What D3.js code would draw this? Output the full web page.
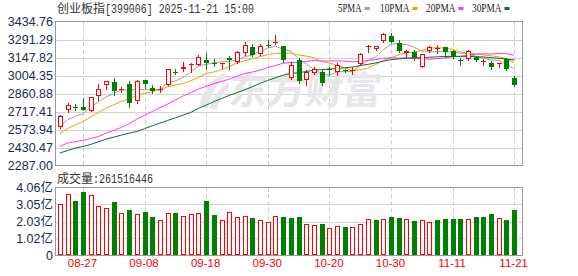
<!DOCTYPE html>
<html>
<head>
<meta charset="utf-8">
<script src="https://cdn.jsdelivr.net/npm/d3@7"></script>
<style>
  html, body { margin: 0; padding: 0; background: #fff; }
  svg { display: block; }
</style>
</head>
<body>
<svg id="chart" width="578" height="276"></svg>
<script>
var width = 578, height = 276

// trading days, 08-22 .. 11-21
var dates = ['08-22','08-25','08-26','08-27','08-28','08-29','09-01','09-02','09-03','09-04',
  '09-05','09-08','09-09','09-10','09-11','09-12','09-15','09-16','09-17','09-18',
  '09-19','09-22','09-23','09-24','09-25','09-26','09-29','09-30','10-09','10-10',
  '10-13','10-14','10-15','10-16','10-17','10-20','10-21','10-22','10-23','10-24',
  '10-27','10-28','10-29','10-30','10-31','11-03','11-04','11-05','11-06','11-07',
  '11-10','11-11','11-12','11-13','11-14','11-17','11-18','11-19','11-20','11-21']

var open = [2593,2726,2755,2753,2721,2837,2928,2954,2892,2938,
  2800,2970,2906,2894,2932,3035,3055,3087,3092,3130,
  3106,3101,3146,3108,3182,3231,3177,3251,3263,3241,
  2981,3130,2970,3024,3034,3053,3029,3052,3045,3098,
  3239,3215,3279,3320,3263,3182,3193,3076,3199,3215,
  3231,3203,3128,3135,3155,3110,3103,3100,3135,2986]
var high = [2687,2789,2778,2827,2836,2938,2962,2986,2916,2960,
  2970,2972,2928,2922,3059,3060,3114,3100,3166,3182,
  3135,3106,3161,3198,3272,3257,3257,3284,3331,3243,
  3108,3140,3050,3071,3045,3071,3103,3060,3071,3187,
  3245,3243,3344,3342,3284,3209,3209,3179,3241,3247,
  3233,3209,3146,3209,3161,3135,3119,3104,3140,3002]
var low = [2587,2710,2726,2729,2719,2811,2895,2847,2874,2753,
  2784,2906,2863,2874,2930,3013,3044,3033,3087,3060,
  3082,3065,3055,3103,3171,3162,3166,3231,3257,3108,
  2975,2944,2932,3013,2928,3008,3008,3036,3013,3092,
  3193,3209,3273,3268,3193,3151,3124,3074,3193,3182,
  3155,3140,3092,3130,3119,3092,3060,3071,3049,2922]
var close = [2683,2768,2751,2731,2832,2895,2960,2879,2897,2784,
  2960,2938,2879,2900,3055,3031,3071,3098,3155,3103,
  3100,3104,3124,3193,3247,3171,3243,3248,3272,3124,
  3092,2960,3034,3055,2944,3049,3087,3044,3052,3177,
  3243,3240,3336,3273,3199,3203,3146,3177,3231,3221,
  3193,3150,3124,3203,3124,3116,3076,3103,3055,2928]

// volume, 亿
var volume = [3.09,3.69,3.23,3.82,3.59,2.98,2.86,3.17,2.56,2.70,
  2.50,2.58,2.28,2.09,2.56,2.56,2.38,2.50,2.56,3.23,
  2.40,2.10,2.62,2.32,2.38,2.22,2.09,2.03,2.38,2.28,
  2.22,2.28,1.91,1.85,1.87,1.63,1.79,1.69,1.73,1.91,
  2.16,2.10,2.16,2.28,2.22,2.20,2.05,2.09,2.03,2.10,
  2.16,2.16,2.16,2.20,2.28,2.28,2.46,2.26,2.10,2.70]

var ma5 = [2597,2651,2678,2699,2753,2795,2834,2859,2892,2883,
  2896,2891,2891,2892,2947,2961,2988,3031,3082,3092,
  3107,3113,3118,3126,3154,3167,3197,3222,3238,3213,
  3197,3139,3096,3053,3016,3007,3033,3036,3036,3083,
  3122,3152,3209,3253,3257,3251,3231,3199,3191,3195,
  3193,3194,3183,3178,3158,3143,3128,3125,3095,3055]
var ma10 = [2540,2582,2610,2637,2673,2710,2744,2771,2799,2818,
  2846,2863,2875,2892,2915,2928,2940,2962,2988,3020,
  3033,3050,3075,3104,3123,3138,3155,3170,3181,3183,
  3182,3168,3159,3146,3115,3103,3086,3066,3044,3049,
  3064,3092,3123,3145,3169,3185,3191,3204,3222,3227,
  3222,3213,3191,3184,3177,3168,3161,3153,3137,3107]
var ma20 = [2439,2466,2477,2487,2502,2518,2545,2566,2592,2619,
  2657,2687,2717,2747,2777,2809,2841,2868,2896,2918,
  2940,2957,2975,2999,3020,3032,3047,3066,3084,3102,
  3108,3109,3117,3125,3119,3120,3121,3119,3113,3117,
  3124,3131,3142,3146,3143,3145,3140,3136,3134,3139,
  3144,3153,3157,3165,3174,3177,3176,3179,3179,3167]
var ma30 = [2386,2407,2426,2439,2455,2476,2497,2513,2529,2545,
  2558,2581,2603,2625,2646,2667,2689,2710,2742,2768,
  2796,2821,2846,2867,2890,2915,2942,2965,2986,3007,
  3020,3027,3036,3047,3051,3056,3060,3066,3071,3084,
  3093,3104,3119,3131,3136,3142,3145,3147,3150,3153,
  3156,3157,3157,3158,3153,3152,3146,3141,3135,3128]

var priceTicks = [2287.00,2430.47,2573.94,2717.41,2860.88,3004.35,3147.82,3291.29,3434.76]
var volTicks = [0,1.02,2.03,3.05,4.06]
var dateTicks = ['08-27','09-08','09-18','09-30','10-20','10-30','11-11','11-21']

var maNames = ['5PMA','10PMA','20PMA','30PMA']
var maColors = ['#a0a0a0','#f0a000','#ff33ff','#0b6b2e']

var RED = '#ff0000', GREEN = '#008000'
var left = 56, right = 522

var svg = d3.select('#chart')

var x = d3.scaleBand().domain(dates).range([left, 518])
var y = d3.scaleLinear().domain([2287, 3434.76]).range([165.5, 21.5])
var yv = d3.scaleLinear().domain([0, 4.06]).range([255.5, 187.5])

function cx(d) { return Math.round(x(d) + x.bandwidth() / 2) }

var bars = dates.map(function(d, i) {
  return {date: d, o: open[i], h: high[i], l: low[i], c: close[i], v: volume[i],
    prev: i > 0 ? close[i - 1] : open[i]}
})

// ---- grid ----
var grid = svg.append('g')
grid.selectAll('line.h').data(priceTicks.slice(1, -1))
  .enter().append('line')
  .attr('x1', left).attr('x2', right)
  .attr('y1', function(d) { return Math.round(y(d)) + 0.5 })
  .attr('y2', function(d) { return Math.round(y(d)) + 0.5 })
  .attr('stroke', '#d4d4d4')
grid.selectAll('line.vh').data(volTicks.slice(1, -1))
  .enter().append('line')
  .attr('x1', left).attr('x2', right)
  .attr('y1', function(d) { return Math.round(yv(d)) + 0.5 })
  .attr('y2', function(d) { return Math.round(yv(d)) + 0.5 })
  .attr('stroke', '#d4d4d4')

dateTicks.forEach(function(d) {
  [[21.5, 165.5], [187.5, 255.5]].forEach(function(r) {
    grid.append('line')
      .attr('x1', cx(d) + 0.5).attr('x2', cx(d) + 0.5)
      .attr('y1', r[0]).attr('y2', r[1])
      .attr('stroke', '#cccccc')
      .attr('stroke-dasharray', '4,3')
  })
})

// ---- watermark ----
var wm = svg.append('g').attr('fill', '#e6e6ea')
wm.append('path')
  .attr('d', 'M199,106 C203,92 210,80 224,73 L226,77 C216,84 211,94 208,108 Z M209,108 C214,96 219,88 229,82 L229,87 C222,93 219,100 217,110 Z')
wm.append('text')
  .attr('x', 228).attr('y', 104)
  .attr('font-family', 'Noto Sans CJK SC')
  .attr('font-weight', 'bold')
  .attr('font-size', 38)
  .attr('transform', 'skewX(-6) translate(11,0)')
  .text('东方财富')

// ---- MA lines ----
var clip = svg.append('clipPath').attr('id', 'pclip')
clip.append('rect').attr('x', left).attr('y', 21.5).attr('width', right - left).attr('height', 144)

var line = d3.line()
  .x(function(d, i) { return x(dates[i]) + x.bandwidth() / 2 })
  .y(function(d) { return y(d) })

var maG = svg.append('g').attr('clip-path', 'url(#pclip)')
;[ma5, ma10, ma20, ma30].forEach(function(s, k) {
  maG.append('path')
    .datum(s)
    .attr('d', line)
    .attr('fill', 'none')
    .attr('stroke', maColors[k])
    .attr('stroke-width', 1)
})

// ---- candles ----
var cg = svg.append('g')
bars.forEach(function(d) {
  var c = cx(d.date)
  var up = d.c >= d.o
  var col = up ? RED : GREEN
  var yT = Math.round(y(Math.max(d.o, d.c)))
  var yB = Math.round(y(Math.min(d.o, d.c)))
  cg.append('line')
    .attr('x1', c + 0.5).attr('x2', c + 0.5)
    .attr('y1', Math.round(y(d.h))).attr('y2', Math.round(y(d.l)) + 1)
    .attr('stroke', col)
  if (yB - yT < 2) {
    cg.append('line')
      .attr('x1', c - 2).attr('x2', c + 3)
      .attr('y1', yT + 0.5).attr('y2', yT + 0.5)
      .attr('stroke', col)
  } else if (up) {
    cg.append('rect')
      .attr('x', c - 1.5).attr('y', yT + 0.5)
      .attr('width', 4).attr('height', yB - yT - 1)
      .attr('fill', '#fff').attr('stroke', RED)
  } else {
    cg.append('rect')
      .attr('x', c - 2).attr('y', yT)
      .attr('width', 5).attr('height', yB - yT)
      .attr('fill', GREEN)
  }
})

// ---- volume ----
var vg = svg.append('g')
bars.forEach(function(d) {
  var c = cx(d.date)
  var yt = Math.round(yv(d.v))
  if (d.c >= d.prev) {
    vg.append('rect')
      .attr('x', c - 1.5).attr('y', yt + 0.5)
      .attr('width', 4).attr('height', 255 - yt - 1)
      .attr('fill', '#fff').attr('stroke', RED)
  } else {
    vg.append('rect')
      .attr('x', c - 2).attr('y', yt)
      .attr('width', 5).attr('height', 255 - yt)
      .attr('fill', GREEN)
  }
})

// ---- frames ----
svg.append('rect')
  .attr('x', 55.5).attr('y', 21.5).attr('width', right - 55.5 + 0.5).attr('height', 144)
  .attr('fill', 'none').attr('stroke', '#999')
svg.append('rect')
  .attr('x', 55.5).attr('y', 187.5).attr('width', right - 55.5 + 0.5).attr('height', 68)
  .attr('fill', 'none').attr('stroke', '#999')

// ---- axes ----
var yAxis = d3.axisLeft(y).tickValues(priceTicks).tickFormat(d3.format('.2f')).tickSize(0).tickPadding(3)
var ya = svg.append('g').attr('transform', 'translate(' + left + ',0)').call(yAxis)
ya.select('.domain').remove()
ya.selectAll('text')
  .attr('fill', '#1c2c4c')
  .style('font-family', 'Liberation Sans, Arial, sans-serif')
  .style('font-size', '12.5px')

var vAxis = d3.axisLeft(yv).tickValues(volTicks)
  .tickFormat(function(d) { return d === 0 ? '0' : d.toFixed(2) + '亿' })
  .tickSize(0).tickPadding(3)
var va = svg.append('g').attr('transform', 'translate(' + left + ',0)').call(vAxis)
va.select('.domain').remove()
va.selectAll('text')
  .attr('fill', '#1c2c4c')
  .style('font-family', 'Liberation Sans, Noto Sans CJK SC, sans-serif')
  .style('font-size', '12.5px')

var xAxis = d3.axisBottom(x).tickValues(dateTicks).tickSize(0).tickPadding(0)
var xa = svg.append('g').attr('transform', 'translate(0,259)').call(xAxis)
xa.select('.domain').remove()
xa.selectAll('text')
  .attr('fill', RED)
  .attr('dx', '-0.5')
  .style('font-family', 'Liberation Sans, Arial, sans-serif')
  .style('font-size', '11.5px')

// ---- titles ----
var t = svg.append('text').attr('x', 57).attr('y', 13).attr('fill', '#333').style('font-size', '12px')
t.append('tspan').style('font-family', 'Noto Sans CJK SC').text('创业板指')
t.append('tspan').style('font-family', 'Liberation Mono, monospace')
  .attr('textLength', 149).attr('lengthAdjust', 'spacingAndGlyphs')
  .text('[399006] 2025-11-21  15:00')

var vt = svg.append('text').attr('x', 57).attr('y', 183).attr('fill', '#333').style('font-size', '12px')
vt.append('tspan').style('font-family', 'Noto Sans CJK SC').text('成交量')
vt.append('tspan').style('font-family', 'Liberation Mono, monospace')
  .attr('textLength', 60).attr('lengthAdjust', 'spacingAndGlyphs')
  .text(':261516446')

// ---- legend ----
var legX = [338, 380, 426, 472]
var leg = svg.append('g')
maNames.forEach(function(n, k) {
  leg.append('text')
    .attr('x', legX[k]).attr('y', 12)
    .attr('fill', '#222')
    .style('font-family', 'Liberation Serif, serif')
    .style('font-size', '12px')
    .attr('textLength', n.length * 5.9).attr('lengthAdjust', 'spacingAndGlyphs')
    .text(n)
  leg.append('rect')
    .attr('x', legX[k] + n.length * 5.9 + 3).attr('y', 7)
    .attr('width', 5).attr('height', 3)
    .attr('fill', maColors[k])
})
</script>
</body>
</html>
